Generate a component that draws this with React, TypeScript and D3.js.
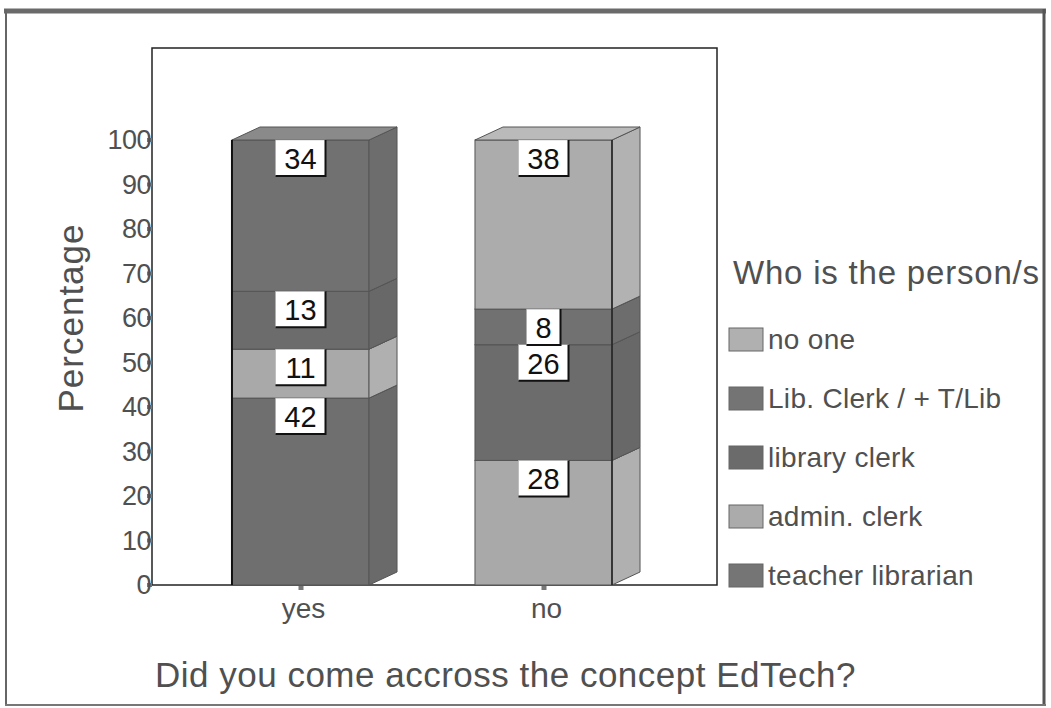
import * as d3 from 'd3'

const categories = ['yes', 'no']
const seriesNames = ['teacher librarian', 'admin. clerk', 'library clerk', 'Lib. Clerk / + T/Lib', 'no one']
const teacherLibrarian = [42, 0]
const adminClerk = [11, 28]
const libraryClerk = [13, 26]
const libClerkTLib = [34, 8]
const noOne = [0, 38]
const yTicks = [0, 10, 20, 30, 40, 50, 60, 70, 80, 90, 100]

const seriesValues = [teacherLibrarian, adminClerk, libraryClerk, libClerkTLib, noOne]
// grey fills from the scan: front / side / top
const fronts = ['#6f6f6f', '#a9a9a9', '#6c6c6c', '#717171', '#acacac']
const sides = ['#6a6a6a', '#b0b0b0', '#686868', '#6d6d6d', '#b2b2b2']
const tops = ['#878787', '#b9b9b9', '#858585', '#8a8a8a', '#bababa']
const swatches = ['#757575', '#ababab', '#6b6b6b', '#747474', '#b0b0b0']

const W = 1051
const H = 708
const plot = { left: 152, right: 717, top: 48, bottom: 585 }
const depthX = 28
const depthY = 13
const textGrey = '#505050'

const App = () => {
  const rows = categories.map((c, i) => {
    const r: any = { cat: c }
    seriesNames.forEach((s, j) => (r[s] = seriesValues[j][i]))
    return r
  })
  const stacked = d3.stack().keys(seriesNames)(rows)

  const x = d3
    .scaleBand()
    .domain(categories)
    .range([plot.left + 27, plot.right - 52])
    .paddingInner(0.436)
    .paddingOuter(0.218)
  const y = d3.scaleLinear().domain([0, 100]).range([plot.bottom, 140])
  const bw = x.bandwidth()

  const legendOrder = seriesNames.map((s, i) => i).reverse()

  return (
    <svg width={W} height={H} style={{ position: 'absolute', left: 0, top: 0, background: '#fff' }}
      fontFamily="'Liberation Sans', Arial, sans-serif">
      <defs>
        <clipPath id="inner">
          <rect x={0} y={0} width={1043} height={H} />
        </clipPath>
      </defs>
      <g clipPath="url(#inner)">
        {/* plot frame */}
        <rect x={plot.left} y={plot.top} width={plot.right - plot.left} height={plot.bottom - plot.top}
          fill="none" stroke="#222" strokeWidth={1.5} />

        {/* y axis ticks and labels */}
        {yTicks.map(t => (
          <g key={t}>
            <rect x={plot.left - 5} y={y(t) - 2} width={5} height={4} fill="#777" />
            <text x={plot.left - 1} y={y(t)} textAnchor="end" dominantBaseline="central"
              fontSize={27} fill={textGrey} letterSpacing={-0.5}>{t}</text>
          </g>
        ))}
        <text transform={`translate(83, 318) rotate(-90)`} textAnchor="middle" fontSize={35}
          fill={textGrey} letterSpacing={1}>Percentage</text>

        {/* bars */}
        {stacked.map((layer, si) =>
          layer.map((d, ci) => {
            if (d[1] - d[0] <= 0) return null
            const x0 = x(categories[ci])!
            const x1 = x0 + bw
            const yT = y(d[1])
            const yB = y(d[0])
            return (
              <g key={`${si}-${ci}`}>
                <rect x={x0} y={yT} width={bw} height={yB - yT} fill={fronts[si]} stroke="#555" strokeWidth={1} />
                <polygon
                  points={`${x1},${yT} ${x1 + depthX},${yT - depthY} ${x1 + depthX},${yB - depthY} ${x1},${yB}`}
                  fill={sides[si]} stroke="#555" strokeWidth={1} />
                <polygon
                  points={`${x0},${yT} ${x0 + depthX},${yT - depthY} ${x1 + depthX},${yT - depthY} ${x1},${yT}`}
                  fill={tops[si]} stroke="#555" strokeWidth={1} />
              </g>
            )
          })
        )}
        {/* darker edges seen on the scan */}
        <line x1={x('yes')!} x2={x('yes')!} y1={y(100)} y2={plot.bottom} stroke="#111" strokeWidth={2} />
        <line x1={x('no')! + bw} x2={x('no')! + bw} y1={y(100)} y2={plot.bottom} stroke="#222" strokeWidth={1.5} />

        {/* data labels */}
        {stacked.map((layer, si) =>
          layer.map((d, ci) => {
            const v = d[1] - d[0]
            if (v <= 0) return null
            const cx = x(categories[ci])! + bw / 2
            const bwid = String(v).length > 1 ? 50 : 34
            const top = y(d[1])
            return (
              <g key={`l-${si}-${ci}`}>
                <rect x={cx - bwid / 2} y={top} width={bwid} height={36} fill="#fff" stroke="#aaa" strokeWidth={0.5} />
                <path d={`M${cx + bwid / 2},${top} V${top + 36} H${cx - bwid / 2}`} fill="none" stroke="#111" strokeWidth={2} />
                <text x={cx} y={top + 19} textAnchor="middle" dominantBaseline="central" fontSize={29} fill="#111">{v}</text>
              </g>
            )
          })
        )}

        {/* x axis ticks and labels */}
        {categories.map(c => (
          <g key={c}>
            <rect x={x(c)! + bw / 2 - 2} y={plot.bottom + 1} width={5} height={4} fill="#777" />
            <text x={x(c)! + bw / 2 + 3} y={618} textAnchor="middle" fontSize={28} fill={textGrey}>{c}</text>
          </g>
        ))}
        <text x={155} y={687} fontSize={35} fill={textGrey} letterSpacing={0.5}>
          Did you come accross the concept EdTech?
        </text>

        {/* legend */}
        <text x={733} y={284} fontSize={33} fill={textGrey} letterSpacing={0.8}>Who is the person/s</text>
        {legendOrder.map((si, k) => {
          const cy = 339.5 + k * 59
          return (
            <g key={seriesNames[si]}>
              <rect x={729} y={cy - 11.5} width={34} height={23} fill={swatches[si]} stroke="#666" strokeWidth={1} />
              <text x={768} y={cy + 9.5} fontSize={28} fill={textGrey} letterSpacing={0.3}>{seriesNames[si]}</text>
            </g>
          )
        })}
      </g>

      {/* outer frame */}
      <line x1={4} x2={1046} y1={11} y2={11} stroke="#6a6a6a" strokeWidth={5} />
      <line x1={6} x2={6} y1={9} y2={706} stroke="#666" strokeWidth={2} />
      <line x1={1044} x2={1044} y1={9} y2={706} stroke="#555" strokeWidth={3} />
      <line x1={5} x2={1046} y1={705} y2={705} stroke="#777" strokeWidth={2} />
    </svg>
  )
}

export default App
